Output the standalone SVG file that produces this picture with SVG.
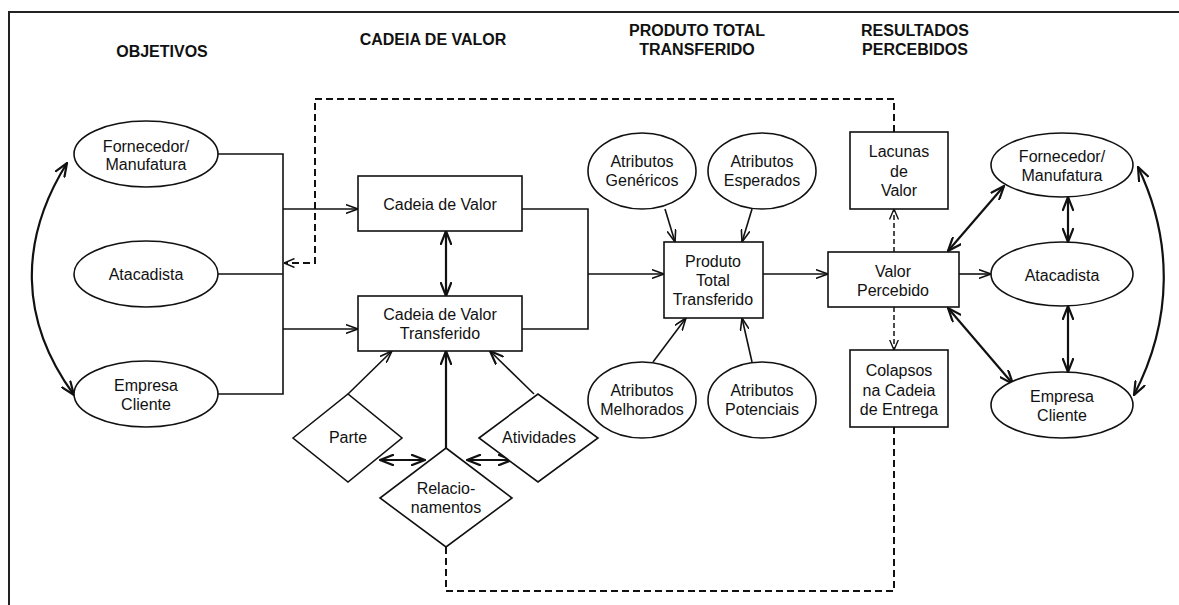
<svg xmlns="http://www.w3.org/2000/svg" width="1179" height="605" viewBox="0 0 1179 605">
<style>
text{font-family:"Liberation Sans",Arial,sans-serif;font-size:16px;fill:#111;text-anchor:middle}
.h{font-weight:bold}
.n{fill:#fff;stroke:#111;stroke-width:1.6}
.c{fill:none;stroke:#111;stroke-width:1.6}
.b{fill:none;stroke:#111;stroke-width:2.2}
.d{fill:none;stroke:#111;stroke-width:2;stroke-dasharray:7,4}
.ds{fill:none;stroke:#111;stroke-width:1.5;stroke-dasharray:5,3}
</style>
<defs>
<marker id="a" viewBox="0 0 13 10" refX="12.5" refY="5" markerWidth="13" markerHeight="10" markerUnits="userSpaceOnUse" orient="auto-start-reverse"><path d="M0,0.5 L12.5,5 L0,9.5" fill="none" stroke="#111" stroke-width="1.6"/></marker>
<marker id="ab" viewBox="0 0 15 12" refX="14" refY="6" markerWidth="15" markerHeight="12" markerUnits="userSpaceOnUse" orient="auto-start-reverse"><path d="M0,0.5 L14,6 L0,11.5" fill="none" stroke="#111" stroke-width="2.2"/></marker>
<marker id="ad" viewBox="0 0 11 10" refX="10.5" refY="5" markerWidth="11" markerHeight="10" markerUnits="userSpaceOnUse" orient="auto-start-reverse"><path d="M0,0.5 L10.5,5 L0,9.5" fill="none" stroke="#111" stroke-width="1.4"/></marker>
</defs>
<path d="M9,605 V12 H1179" fill="none" stroke="#222" stroke-width="2"/>
<g id="headings">
<text class="h" x="162" y="57">OBJETIVOS</text>
<text class="h" x="433" y="45">CADEIA DE VALOR</text>
<text class="h" x="697" y="36">PRODUTO TOTAL</text>
<text class="h" x="697" y="55">TRANSFERIDO</text>
<text class="h" x="915" y="36">RESULTADOS</text>
<text class="h" x="915" y="55">PERCEBIDOS</text>
</g>
<g id="connectors">
<path class="c" d="M218,154 H283 V394 H218 M218,274 H283 M522,209 H588 V329 H522"/>
<path class="c" d="M283,209 H358" marker-end="url(#a)"/>
<path class="c" d="M283,329 H358" marker-end="url(#a)"/>
<path class="c" d="M588,274 H664" marker-end="url(#a)"/>
<path class="c" d="M763,274 H828" marker-end="url(#a)"/>
<path class="c" d="M959,274 H991" marker-end="url(#a)"/>
<path class="c" d="M665,209 L675,242" marker-end="url(#a)"/>
<path class="c" d="M752,209 L742,242" marker-end="url(#a)"/>
<path class="c" d="M653,362 L686,318" marker-end="url(#a)"/>
<path class="c" d="M752,362 L742,318" marker-end="url(#a)"/>
<path class="c" d="M348,394 L392,351" marker-end="url(#a)"/>
<path class="c" d="M534,394 L490,351" marker-end="url(#ab)"/>
<path class="b" d="M446,448 V351" marker-end="url(#ab)"/>
<path class="b" d="M446,231 V296" marker-start="url(#ab)" marker-end="url(#ab)"/>
<path class="b" d="M380,460 H425" marker-start="url(#ab)" marker-end="url(#ab)"/>
<path class="b" d="M467,460 H512" marker-start="url(#ab)" marker-end="url(#ab)"/>
<path class="b" d="M1004,186 L948,251" marker-start="url(#ab)" marker-end="url(#ab)"/>
<path class="b" d="M948,308 L1013,384" marker-start="url(#ab)" marker-end="url(#ab)"/>
<path class="b" d="M1068,197 V242" marker-start="url(#ab)" marker-end="url(#ab)"/>
<path class="b" d="M1068,306 V372" marker-start="url(#ab)" marker-end="url(#ab)"/>
<path class="b" d="M67,163 C19,240 19,320 74,395" marker-start="url(#ab)" marker-end="url(#ab)"/>
<path class="b" d="M1138,167 C1173,240 1173,320 1134,395" marker-start="url(#ab)" marker-end="url(#ab)"/>
<path class="d" d="M446,547 V591 H894 V427"/>
<path class="d" d="M894,132 V99 H315 V263 H284" marker-end="url(#ad)"/>
<path class="ds" d="M894,252 V209" marker-end="url(#ad)"/>
<path class="ds" d="M894,307 V350" marker-end="url(#ad)"/>
</g>
<g id="obj-fornecedor"><ellipse class="n" cx="146" cy="154" rx="72" ry="33"/><text x="146" y="152">Fornecedor/</text><text x="146" y="170">Manufatura</text></g>
<g id="obj-atacadista"><ellipse class="n" cx="146" cy="274" rx="72" ry="33"/><text x="146" y="280">Atacadista</text></g>
<g id="obj-empresa"><ellipse class="n" cx="146" cy="394" rx="72" ry="33"/><text x="146" y="391">Empresa</text><text x="146" y="410">Cliente</text></g>
<g id="cadeia-valor"><rect class="n" x="358" y="176" width="164" height="55"/><text x="440" y="210">Cadeia de Valor</text></g>
<g id="cadeia-transferido"><rect class="n" x="358" y="296" width="164" height="55"/><text x="440" y="320">Cadeia de Valor</text><text x="440" y="339">Transferido</text></g>
<g id="parte"><polygon class="n" points="293,438 348,394 402,438 348,482"/><text x="348" y="443">Parte</text></g>
<g id="relacionamentos"><polygon class="n" points="446,448 512,498 446,547 380,498"/><text x="446" y="494">Relacio-</text><text x="446" y="513">namentos</text></g>
<g id="atividades"><polygon class="n" points="479,438 538,394 598,438 538,482"/><text x="539" y="443">Atividades</text></g>
<g id="attr-genericos"><ellipse class="n" cx="642" cy="171" rx="54" ry="38"/><text x="642" y="167">Atributos</text><text x="642" y="186">Genéricos</text></g>
<g id="attr-esperados"><ellipse class="n" cx="762" cy="171" rx="54" ry="38"/><text x="762" y="167">Atributos</text><text x="762" y="186">Esperados</text></g>
<g id="attr-melhorados"><ellipse class="n" cx="642" cy="400" rx="54" ry="38"/><text x="642" y="396">Atributos</text><text x="642" y="415">Melhorados</text></g>
<g id="attr-potenciais"><ellipse class="n" cx="762" cy="400" rx="54" ry="38"/><text x="762" y="396">Atributos</text><text x="762" y="415">Potenciais</text></g>
<g id="produto"><rect class="n" x="664" y="242" width="99" height="76"/><text x="713" y="267">Produto</text><text x="713" y="286">Total</text><text x="713" y="305">Transferido</text></g>
<g id="valor-percebido"><rect class="n" x="828" y="252" width="131" height="55"/><text x="893" y="277">Valor</text><text x="893" y="296">Percebido</text></g>
<g id="lacunas"><rect class="n" x="850" y="132" width="98" height="77"/><text x="899" y="157">Lacunas</text><text x="899" y="177">de</text><text x="899" y="196">Valor</text></g>
<g id="colapsos"><rect class="n" x="850" y="350" width="98" height="77"/><text x="899" y="376">Colapsos</text><text x="899" y="396">na Cadeia</text><text x="899" y="415">de Entrega</text></g>
<g id="res-fornecedor"><ellipse class="n" cx="1062" cy="165" rx="71" ry="32"/><text x="1062" y="162">Fornecedor/</text><text x="1062" y="181">Manufatura</text></g>
<g id="res-atacadista"><ellipse class="n" cx="1062" cy="274" rx="71" ry="32"/><text x="1062" y="281">Atacadista</text></g>
<g id="res-empresa"><ellipse class="n" cx="1062" cy="405" rx="71" ry="33"/><text x="1062" y="402">Empresa</text><text x="1062" y="421">Cliente</text></g>
</svg>
